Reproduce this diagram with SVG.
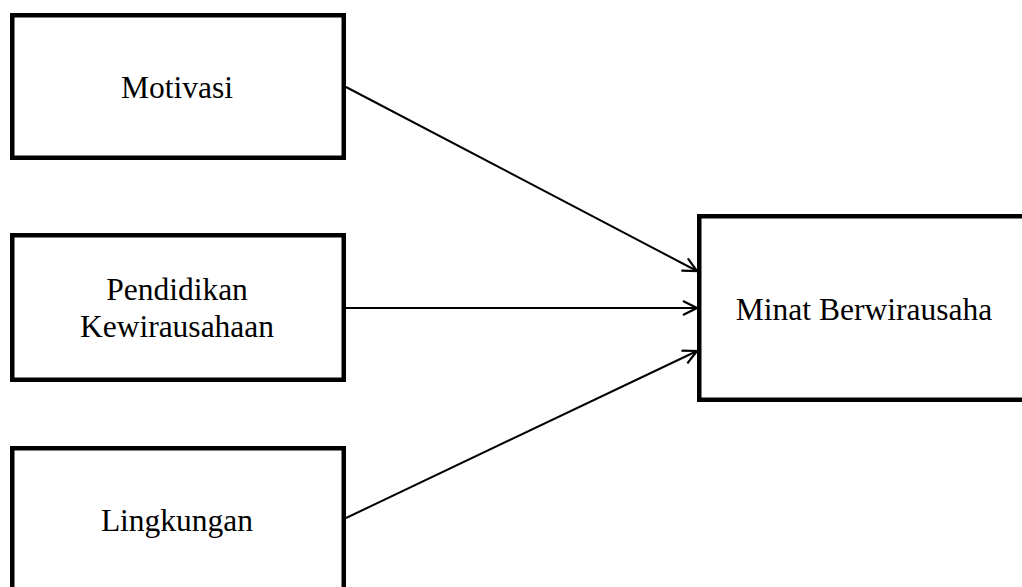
<svg xmlns="http://www.w3.org/2000/svg" width="1022" height="587" viewBox="0 0 1022 587">
<style>
.box{fill:#fff;stroke:#000;stroke-width:4.5}
.lbl{font-family:"Liberation Serif","Times New Roman",serif;font-size:31.5px;fill:#000;text-anchor:middle}
.conn{stroke:#000;stroke-width:2;fill:none;marker-end:url(#arr)}
</style>
<defs>
<marker id="arr" viewBox="0 0 16 16" refX="15" refY="8" markerWidth="16" markerHeight="16" markerUnits="userSpaceOnUse" orient="auto">
<path d="M1,1 L15,8 L1,15" fill="none" stroke="#000" stroke-width="2.2"/>
</marker>
</defs>
<rect width="1022" height="587" fill="#fff"/>
<g id="node-motivasi">
<rect class="box" x="12.25" y="15.25" width="331.5" height="142.5"/>
<text class="lbl" x="177" y="98">Motivasi</text>
</g>
<g id="node-pendidikan">
<rect class="box" x="12.25" y="235.25" width="331.5" height="144.5"/>
<text class="lbl" x="177" y="300">Pendidikan</text>
<text class="lbl" x="177" y="336.5">Kewirausahaan</text>
</g>
<g id="node-lingkungan">
<rect class="box" x="12.25" y="448.25" width="331.5" height="160"/>
<text class="lbl" x="177" y="530.5">Lingkungan</text>
</g>
<g id="node-minat">
<rect class="box" x="699.25" y="216.25" width="400" height="183.5"/>
<text class="lbl" x="864" y="320">Minat Berwirausaha</text>
</g>
<g id="connectors">
<line class="conn" x1="346" y1="87" x2="697" y2="271"/>
<line class="conn" x1="346" y1="308" x2="697" y2="308"/>
<line class="conn" x1="346" y1="518" x2="697" y2="351"/>
</g>
</svg>
